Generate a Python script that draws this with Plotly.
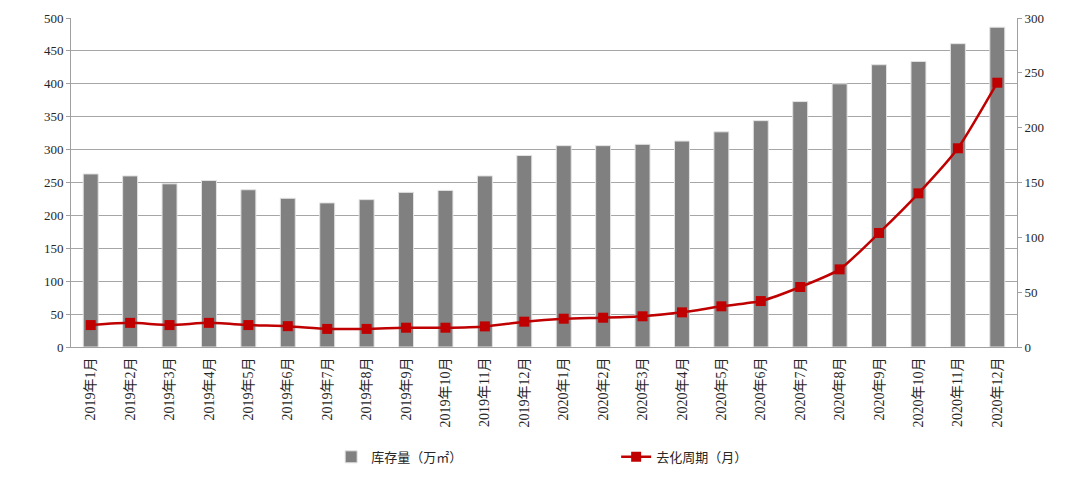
import plotly.graph_objects as go

months = [f"2019年{i}月" for i in range(1, 13)] + [f"2020年{i}月" for i in range(1, 13)]
inventory = [263, 260, 248, 253, 239, 226, 219, 224, 235, 238, 260, 291,
             306, 306, 308, 313, 327, 344, 373, 400, 429, 434, 461, 486]
cycle = [20, 22, 20, 22, 20, 19, 16.5, 16.5, 17.6, 17.6, 18.8, 23.1,
         25.8, 26.7, 28, 31.6, 37.1, 41.9, 54.7, 70.8, 104, 140.1, 181.2, 241]

FONT = "'Liberation Serif', 'Noto Sans CJK SC', serif"
TXT = "#262626"

fig = go.Figure()
fig.add_trace(go.Bar(
    x=months, y=inventory, name="库存量（万㎡）",
    marker=dict(color="#808080", line=dict(color="#E3E3E3", width=1)),
    yaxis="y",
))
fig.add_trace(go.Scatter(
    x=months, y=cycle, name="去化周期（月）", mode="lines+markers",
    line=dict(color="#C00000", width=2.5, shape="spline", smoothing=0.6),
    marker=dict(symbol="square", size=10, color="#C00000"),
    yaxis="y2",
))

fig.update_layout(
    width=1080, height=477,
    margin=dict(l=71, r=63, t=18, b=130, autoexpand=False),
    paper_bgcolor="white", plot_bgcolor="white",
    font=dict(family=FONT, size=13, color=TXT),
    bargap=0.62,
    showlegend=True,
    legend=dict(orientation="h", x=0.275, xanchor="left", xref="paper",
                y=-0.334, yanchor="middle",
                entrywidth=240, entrywidthmode="pixels",
                font=dict(family=FONT, size=13, color=TXT)),
    xaxis=dict(
        range=[-0.5, 23.5], autorange=False, automargin=False,
        tickangle=-90, showline=True, linecolor="#A0A0A0", linewidth=1,
        showgrid=False, ticks="outside", ticklen=4, tickcolor="rgba(0,0,0,0)",
        tickfont=dict(family=FONT, size=14, color=TXT),
    ),
    yaxis=dict(
        range=[0, 500], dtick=50, showgrid=True, gridcolor="#A6A6A6", gridwidth=1,
        showline=True, linecolor="#A0A0A0", linewidth=1, automargin=False,
        ticks="outside", ticklen=4, tickcolor="#A0A0A0",
        zeroline=False, tickfont=dict(family=FONT, size=13, color=TXT),
    ),
    yaxis2=dict(
        range=[0, 300], dtick=50, overlaying="y", side="right", showgrid=False,
        showline=True, linecolor="#A0A0A0", linewidth=1, automargin=False,
        ticks="outside", ticklen=4, tickcolor="#A0A0A0",
        zeroline=False, tickfont=dict(family=FONT, size=13, color=TXT),
    ),
)

fig.write_html("out.html")
